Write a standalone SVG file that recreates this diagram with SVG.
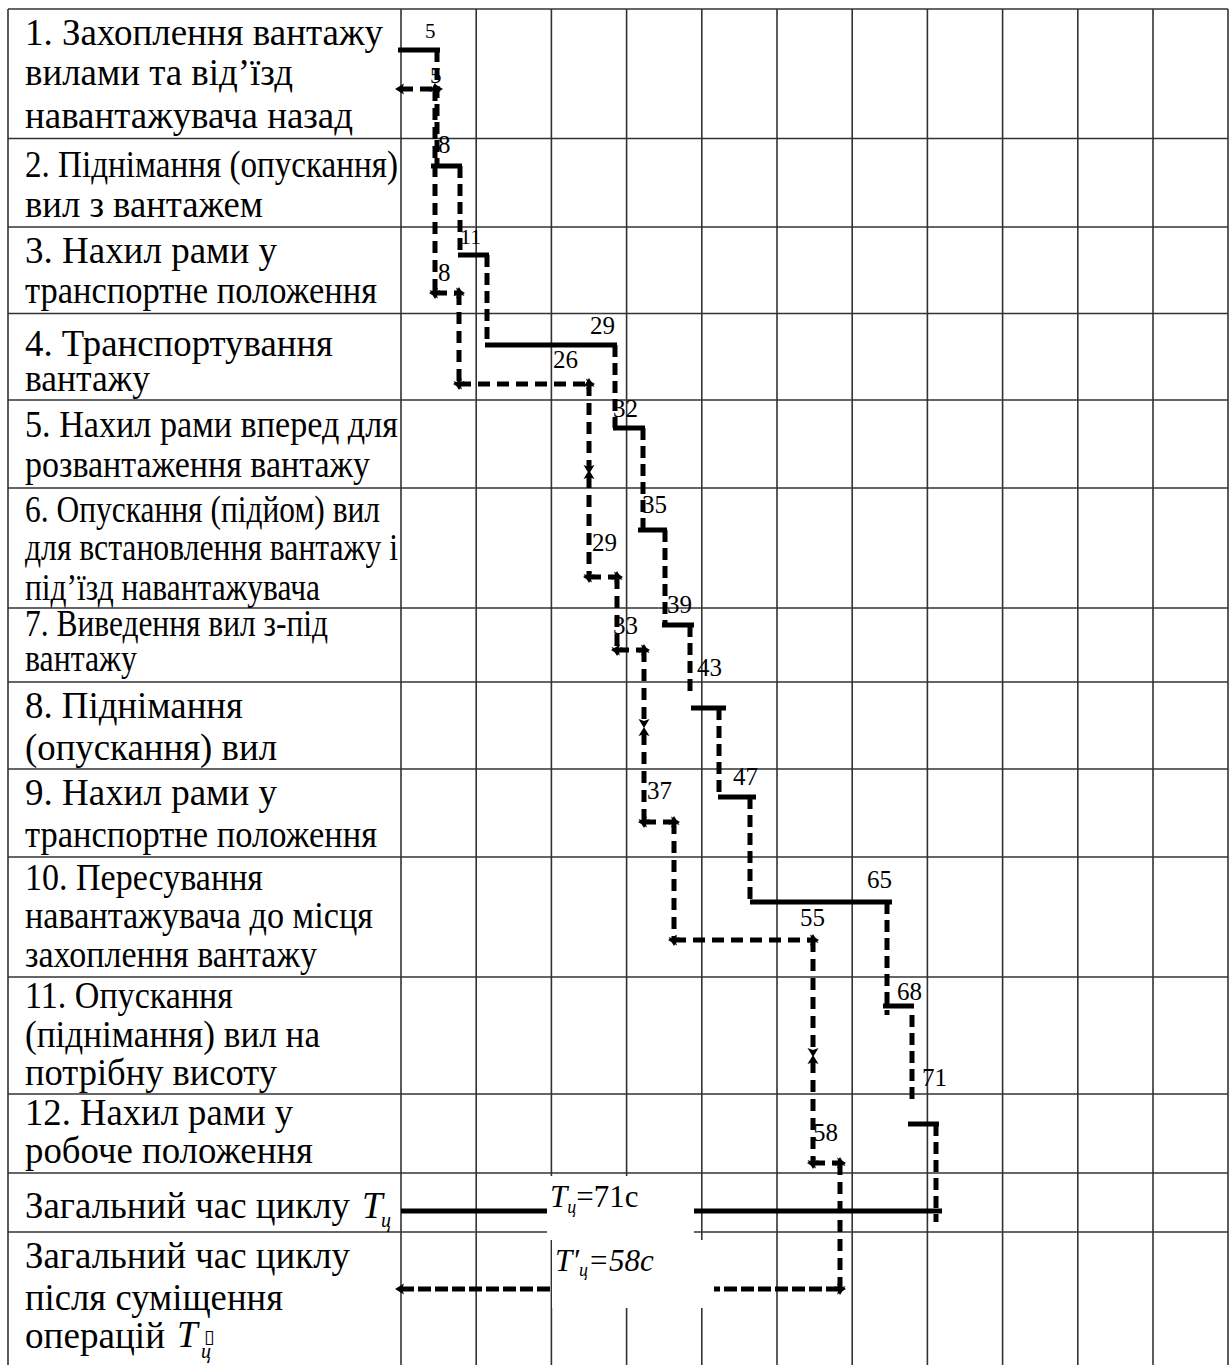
<svg xmlns="http://www.w3.org/2000/svg" width="1230" height="1365" viewBox="0 0 1230 1365">
<style>
.g{stroke:#333;stroke-width:1.6;fill:none}
.t{font-family:"Liberation Serif","Times New Roman",serif;font-size:37px;fill:#000}
.n{font-family:"Liberation Serif","Times New Roman",serif;font-size:25px;fill:#000}
.i{font-style:italic}
.s{stroke:#000;stroke-width:5;fill:none}
.sd{stroke:#000;stroke-width:5;fill:none;stroke-dasharray:12 6}
.d{stroke:#000;stroke-width:5;fill:none;stroke-dasharray:12 7;marker-start:url(#ah);marker-end:url(#ah)}
.d2{stroke:#000;stroke-width:5;fill:none;stroke-dasharray:13 4;marker-start:url(#ah);marker-end:url(#ah)}
</style>
<defs>
<marker id="ah" viewBox="-8 -8 16 16" markerWidth="16" markerHeight="16" refX="0" refY="0" orient="auto-start-reverse" markerUnits="userSpaceOnUse">
<path d="M-3,-5.5 L6,0 L-3,5.5 L-1,0 z" fill="#000"/>
</marker>
</defs>
<rect width="1230" height="1365" fill="#fff"/>
<g id="grid" class="g">
<line x1="8" y1="9" x2="1228" y2="9"/>
<line x1="8" y1="138.5" x2="1228" y2="138.5"/>
<line x1="8" y1="227" x2="1228" y2="227"/>
<line x1="8" y1="313.5" x2="1228" y2="313.5"/>
<line x1="8" y1="400" x2="1228" y2="400"/>
<line x1="8" y1="488" x2="1228" y2="488"/>
<line x1="8" y1="608" x2="1228" y2="608"/>
<line x1="8" y1="682" x2="1228" y2="682"/>
<line x1="8" y1="769" x2="1228" y2="769"/>
<line x1="8" y1="857" x2="1228" y2="857"/>
<line x1="8" y1="977" x2="1228" y2="977"/>
<line x1="8" y1="1094" x2="1228" y2="1094"/>
<line x1="8" y1="1173" x2="1228" y2="1173"/>
<line x1="8" y1="1232" x2="1228" y2="1232"/>
<line x1="8" y1="9" x2="8" y2="1365"/>
<line x1="401" y1="9" x2="401" y2="1365"/>
<line x1="476.2" y1="9" x2="476.2" y2="1365"/>
<line x1="551.4" y1="9" x2="551.4" y2="1365"/>
<line x1="626.6" y1="9" x2="626.6" y2="1365"/>
<line x1="701.8" y1="9" x2="701.8" y2="1365"/>
<line x1="777" y1="9" x2="777" y2="1365"/>
<line x1="852.2" y1="9" x2="852.2" y2="1365"/>
<line x1="927.4" y1="9" x2="927.4" y2="1365"/>
<line x1="1002.6" y1="9" x2="1002.6" y2="1365"/>
<line x1="1077.8" y1="9" x2="1077.8" y2="1365"/>
<line x1="1153" y1="9" x2="1153" y2="1365"/>
<line x1="1228" y1="9" x2="1228" y2="1365"/>
</g>
<g id="op1" class="t">
<text x="25" y="45" textLength="358" lengthAdjust="spacingAndGlyphs">1. Захоплення вантажу</text>
<text x="25" y="85" textLength="268" lengthAdjust="spacingAndGlyphs">вилами та від’їзд</text>
<text x="25" y="128" textLength="328" lengthAdjust="spacingAndGlyphs">навантажувача назад</text>
</g>
<g id="op2" class="t">
<text x="25" y="177" textLength="373" lengthAdjust="spacingAndGlyphs">2. Піднімання (опускання)</text>
<text x="25" y="217" textLength="238" lengthAdjust="spacingAndGlyphs">вил з вантажем</text>
</g>
<g id="op3" class="t">
<text x="25" y="263" textLength="252" lengthAdjust="spacingAndGlyphs">3. Нахил рами у</text>
<text x="25" y="303" textLength="352" lengthAdjust="spacingAndGlyphs">транспортне положення</text>
</g>
<g id="op4" class="t">
<text x="25" y="356" textLength="308" lengthAdjust="spacingAndGlyphs">4. Транспортування</text>
<text x="25" y="391" textLength="125" lengthAdjust="spacingAndGlyphs">вантажу</text>
</g>
<g id="op5" class="t">
<text x="25" y="437" textLength="373" lengthAdjust="spacingAndGlyphs">5. Нахил рами вперед для</text>
<text x="25" y="477" textLength="345" lengthAdjust="spacingAndGlyphs">розвантаження вантажу</text>
</g>
<g id="op6" class="t">
<text x="25" y="522" textLength="355" lengthAdjust="spacingAndGlyphs">6. Опускання (підйом) вил</text>
<text x="25" y="560" textLength="373" lengthAdjust="spacingAndGlyphs">для встановлення вантажу і</text>
<text x="25" y="600" textLength="295" lengthAdjust="spacingAndGlyphs">під’їзд навантажувача</text>
</g>
<g id="op7" class="t">
<text x="25" y="636" textLength="303" lengthAdjust="spacingAndGlyphs">7. Виведення вил з-під</text>
<text x="25" y="671" textLength="112" lengthAdjust="spacingAndGlyphs">вантажу</text>
</g>
<g id="op8" class="t">
<text x="25" y="718" textLength="218" lengthAdjust="spacingAndGlyphs">8. Піднімання</text>
<text x="25" y="760" textLength="252" lengthAdjust="spacingAndGlyphs">(опускання) вил</text>
</g>
<g id="op9" class="t">
<text x="25" y="805" textLength="252" lengthAdjust="spacingAndGlyphs">9. Нахил рами у</text>
<text x="25" y="847" textLength="352" lengthAdjust="spacingAndGlyphs">транспортне положення</text>
</g>
<g id="op10" class="t">
<text x="25" y="890" textLength="238" lengthAdjust="spacingAndGlyphs">10. Пересування</text>
<text x="25" y="928" textLength="348" lengthAdjust="spacingAndGlyphs">навантажувача до місця</text>
<text x="25" y="967" textLength="292" lengthAdjust="spacingAndGlyphs">захоплення вантажу</text>
</g>
<g id="op11" class="t">
<text x="25" y="1008" textLength="208" lengthAdjust="spacingAndGlyphs">11. Опускання</text>
<text x="25" y="1047" textLength="295" lengthAdjust="spacingAndGlyphs">(піднімання) вил на</text>
<text x="25" y="1085" textLength="252" lengthAdjust="spacingAndGlyphs">потрібну висоту</text>
</g>
<g id="op12" class="t">
<text x="25" y="1125" textLength="268" lengthAdjust="spacingAndGlyphs">12. Нахил рами у</text>
<text x="25" y="1163" textLength="288" lengthAdjust="spacingAndGlyphs">робоче положення</text>
</g>
<g id="total" class="t">
<text x="25" y="1218" textLength="325" lengthAdjust="spacingAndGlyphs">Загальний час циклу</text>
<text x="362" y="1218" class="i">T</text>
<text x="381" y="1227" class="i" style="font-size:20px">ц</text>
</g>
<g id="total-combined" class="t">
<text x="25" y="1268" textLength="325" lengthAdjust="spacingAndGlyphs">Загальний час циклу</text>
<text x="25" y="1310" textLength="258" lengthAdjust="spacingAndGlyphs">після суміщення</text>
<text x="25" y="1348" textLength="140" lengthAdjust="spacingAndGlyphs">операцій</text>
<text x="177" y="1347" class="i">T</text>
<text x="204" y="1343" style="font-family:'DejaVu Sans',sans-serif;font-size:19px">▯</text>
<text x="201" y="1358" class="i" style="font-size:20px">ц</text>
</g>
<g id="connectors">
<g id="cycle-before">
<line class="s" x1="398" y1="50" x2="440" y2="50"/>
<line class="s" x1="431" y1="166" x2="462" y2="166"/>
<line class="s" x1="458" y1="255" x2="489" y2="255"/>
<line class="s" x1="485" y1="345" x2="617" y2="345"/>
<line class="s" x1="613" y1="428" x2="645" y2="428"/>
<line class="s" x1="638" y1="530" x2="667" y2="530"/>
<line class="s" x1="662" y1="625" x2="694" y2="625"/>
<line class="s" x1="691" y1="708" x2="726" y2="708"/>
<line class="s" x1="718" y1="797" x2="756" y2="797"/>
<line class="s" x1="750" y1="902" x2="892" y2="902"/>
<line class="s" x1="883" y1="1006" x2="914" y2="1006"/>
<line class="s" x1="908" y1="1124" x2="939" y2="1124"/>
<line class="s" x1="401" y1="1211" x2="942" y2="1211"/>
<line class="sd" x1="437" y1="50" x2="437" y2="166"/>
<line class="sd" x1="460" y1="166" x2="460" y2="255"/>
<line class="sd" x1="487" y1="255" x2="487" y2="345"/>
<line class="sd" x1="615" y1="345" x2="615" y2="428"/>
<line class="sd" x1="643" y1="428" x2="643" y2="530"/>
<line class="sd" x1="665" y1="530" x2="665" y2="625"/>
<line class="sd" x1="690" y1="625" x2="690" y2="693"/>
<line class="sd" x1="719" y1="708" x2="719" y2="797"/>
<line class="sd" x1="750" y1="797" x2="750" y2="902"/>
<line class="sd" x1="887" y1="902" x2="887" y2="1015"/>
<line class="sd" x1="912" y1="1015" x2="912" y2="1104"/>
<line class="sd" x1="936" y1="1124" x2="936" y2="1222"/>
</g>
<g id="cycle-after">
<line class="d" x1="401" y1="89" x2="437" y2="89"/>
<line class="d" x1="435" y1="89" x2="435" y2="293"/>
<line class="d" x1="435" y1="293" x2="459" y2="293"/>
<line class="d" x1="459" y1="293" x2="459" y2="384"/>
<line class="d" x1="459" y1="384" x2="589" y2="384"/>
<line class="d" x1="589" y1="384" x2="589" y2="468"/>
<line class="d" x1="589" y1="476" x2="589" y2="577"/>
<line class="d" x1="589" y1="577" x2="617" y2="577"/>
<line class="d" x1="617" y1="577" x2="617" y2="650"/>
<line class="d" x1="617" y1="650" x2="644" y2="650"/>
<line class="d" x1="644" y1="650" x2="644" y2="722"/>
<line class="d" x1="644" y1="733" x2="644" y2="822"/>
<line class="d" x1="644" y1="822" x2="674" y2="822"/>
<line class="d" x1="674" y1="822" x2="674" y2="940"/>
<line class="d" x1="674" y1="940" x2="813" y2="940"/>
<line class="d" x1="813" y1="940" x2="813" y2="1051"/>
<line class="d" x1="813" y1="1061" x2="813" y2="1163"/>
<line class="d" x1="813" y1="1163" x2="840" y2="1163"/>
<line class="d" x1="840" y1="1163" x2="840" y2="1289"/>
<line class="d2" x1="401" y1="1289" x2="840" y2="1289"/>
</g>
</g>
<g id="label-masks" fill="#fff">
<rect x="547" y="1176" width="147" height="64"/>
<rect x="552" y="1240" width="162" height="68"/>
</g>
<g id="values" class="n">
<text x="425" y="38" style="font-size:21px">5</text>
<text x="430" y="83" style="font-size:23px">5</text>
<text x="438" y="153">8</text>
<text x="460" y="244" style="font-size:22px">11</text>
<text x="438" y="281">8</text>
<text x="590" y="334">29</text>
<text x="553" y="368">26</text>
<text x="613" y="417">32</text>
<text x="642" y="513">35</text>
<text x="592" y="551">29</text>
<text x="667" y="613">39</text>
<text x="613" y="634">33</text>
<text x="697" y="676">43</text>
<text x="733" y="785">47</text>
<text x="647" y="799">37</text>
<text x="867" y="888">65</text>
<text x="800" y="926">55</text>
<text x="897" y="1000">68</text>
<text x="922" y="1086">71</text>
<text x="813" y="1141">58</text>
</g>
<g id="cycle-labels" class="t" style="font-size:31px">
<text x="550" y="1207"><tspan class="i">T</tspan><tspan class="i" style="font-size:18px" dy="6">ц</tspan><tspan dy="-6">=71с</tspan></text>
<text x="555" y="1271" class="i"><tspan>T′</tspan><tspan style="font-size:18px" dy="5">ц</tspan><tspan dy="-5">=58с</tspan></text>
</g>
</svg>
